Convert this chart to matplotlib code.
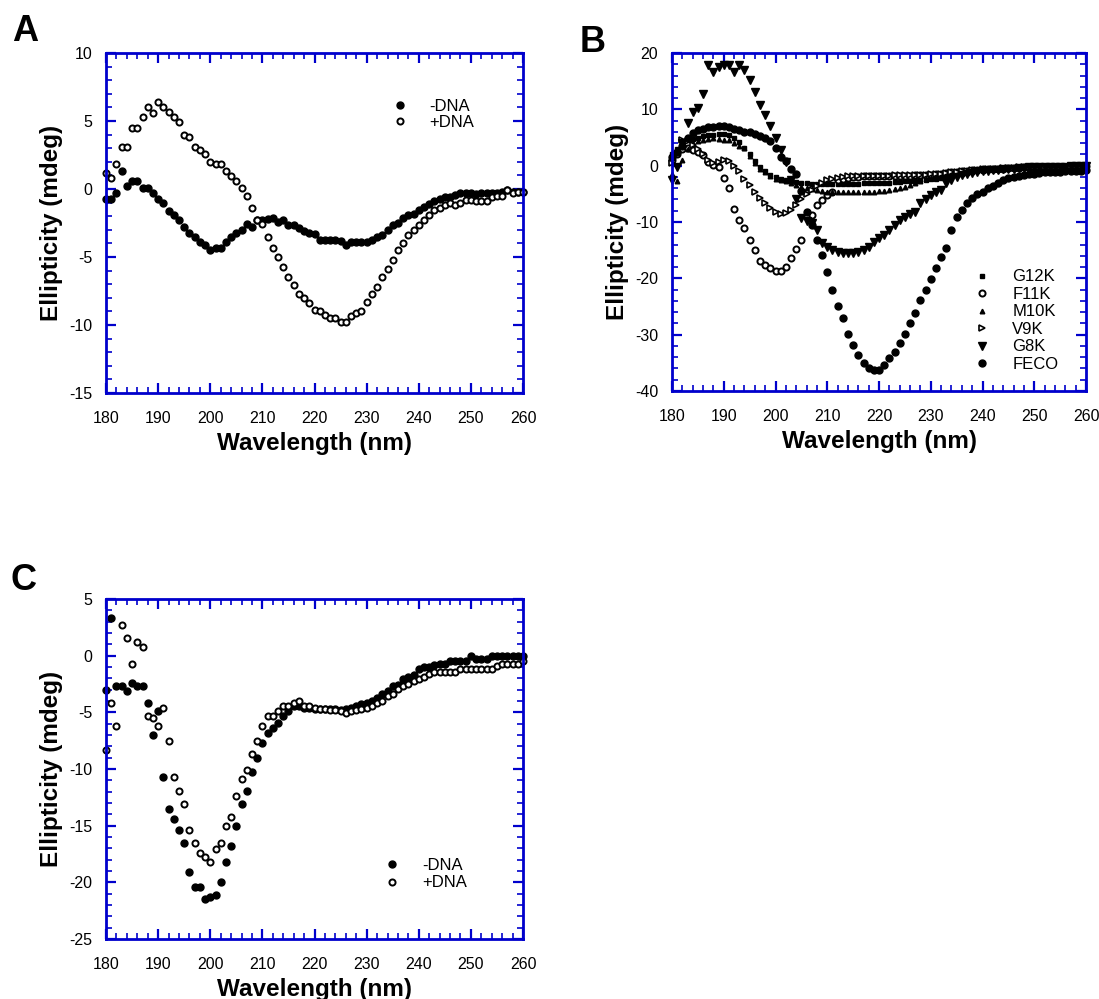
import matplotlib
matplotlib.use('Agg')
import matplotlib.pyplot as plt
from matplotlib.ticker import MultipleLocator

WAVELENGTH = list(range(180, 261))

# panel A
A_MINUS_DNA = [-0.7, -0.7, -0.3, 1.3, 0.2, 0.6, 0.6, 0.1, 0.1, -0.3,
               -0.7, -1.0, -1.6, -1.9, -2.3, -2.8, -3.2, -3.5, -3.9, -4.1,
               -4.5, -4.3, -4.3, -3.9, -3.5, -3.2, -3.0, -2.6, -2.8, -2.3,
               -2.3, -2.2, -2.1, -2.4, -2.3, -2.65, -2.65, -2.9, -3.05, -3.2,
               -3.3, -3.75, -3.75, -3.75, -3.75, -3.85, -4.1, -3.9, -3.9, -3.9,
               -3.9, -3.75, -3.55, -3.4, -3.0, -2.65, -2.5, -2.15, -1.9, -1.8,
               -1.55, -1.35, -1.1, -0.9, -0.7, -0.6, -0.55, -0.45, -0.3, -0.27,
               -0.27, -0.35, -0.3, -0.27, -0.27, -0.27, -0.2, -0.1, -0.2, -0.2, -0.2]
A_PLUS_DNA = [1.15, 0.8, 1.85, 3.1, 3.1, 4.5, 4.5, 5.3, 6.0, 5.6,
              6.4, 6.0, 5.7, 5.3, 4.9, 4.0, 3.8, 3.1, 2.9, 2.55,
              2.0, 1.85, 1.85, 1.3, 0.95, 0.6, 0.05, -0.5, -1.4, -2.3,
              -2.6, -3.55, -4.3, -5.0, -5.7, -6.45, -7.05, -7.7, -8.05, -8.4,
              -8.9, -9.0, -9.25, -9.45, -9.45, -9.75, -9.75, -9.35, -9.15, -8.95,
              -8.3, -7.7, -7.2, -6.5, -5.9, -5.2, -4.45, -3.95, -3.4, -3.0,
              -2.65, -2.3, -1.9, -1.55, -1.4, -1.2, -1.05, -1.2, -1.05, -0.8,
              -0.8, -0.85, -0.85, -0.85, -0.55, -0.5, -0.5, -0.1, -0.3, -0.2, -0.2]

# panel B
B_G12K = [2.0, 3.0, 4.0, 4.5, 4.8, 5.0, 5.2, 5.4, 5.5, 5.6,
          5.6, 5.5, 5.0, 4.2, 3.1, 2.0, 0.8, -0.2, -1.0, -1.6,
          -2.0, -2.3, -2.5, -2.7, -2.9, -3.0, -3.1, -3.2, -3.2, -3.3,
          -3.3, -3.3, -3.3, -3.3, -3.2, -3.2, -3.2, -3.1, -3.1, -3.1,
          -3.0, -3.0, -3.0, -2.9, -2.9, -2.8, -2.8, -2.7, -2.6, -2.5,
          -2.4, -2.3, -2.2, -2.0, -1.9, -1.7, -1.5, -1.3, -1.1, -1.0,
          -0.9, -0.8, -0.7, -0.6, -0.5, -0.5, -0.4, -0.4, -0.3, -0.3,
          -0.3, -0.2, -0.2, -0.2, -0.2, -0.1, -0.1, -0.1, 0.0, 0.0, 0.0]
B_F11K = [1.0, 2.0, 3.0, 3.1, 2.8, 2.5, 1.9, 0.7, 0.1, -0.2,
          -2.2, -4.0, -7.6, -9.6, -11.1, -13.2, -15.0, -17.0, -17.6, -18.1,
          -18.7, -18.7, -17.9, -16.3, -14.7, -13.2, -9.0, -8.7, -7.0, -6.1,
          -5.2, -4.6, -2.5, -2.3, -2.1, -2.0, -2.0, -1.9, -1.9, -1.9,
          -1.9, -1.9, -1.9, -1.9, -1.8, -1.8, -1.8, -1.7, -1.7, -1.6,
          -1.6, -1.5, -1.4, -1.3, -1.2, -1.1, -1.0, -0.9, -0.8, -0.7,
          -0.6, -0.6, -0.5, -0.5, -0.5, -0.4, -0.4, -0.4, -0.3, -0.3,
          -0.3, -0.3, -0.3, -0.2, -0.2, -0.2, -0.2, -0.2, -0.1, -0.1, -0.1]
B_M10K = [-1.5, -2.7, 1.0, 3.0, 4.0, 4.4, 4.6, 4.8, 4.9, 4.8,
          4.6, 4.5, 4.0, 3.5, 3.1, 1.8, 0.4, -0.6, -1.1, -1.9,
          -2.3, -2.5, -2.8, -3.1, -3.4, -3.7, -4.0, -4.2, -4.4, -4.5,
          -4.6, -4.6, -4.7, -4.7, -4.7, -4.7, -4.7, -4.6, -4.6, -4.6,
          -4.5, -4.5, -4.4, -4.2, -4.0, -3.7, -3.4, -3.0, -2.7, -2.4,
          -2.1, -1.9, -1.7, -1.5, -1.3, -1.2, -1.0, -0.9, -0.8, -0.7,
          -0.6, -0.6, -0.5, -0.5, -0.4, -0.4, -0.4, -0.3, -0.3, -0.3,
          -0.3, -0.2, -0.2, -0.2, -0.2, -0.2, -0.1, -0.1, -0.1, -0.1, 0.0]
B_V9K = [0.5, 2.0, 4.5, 4.3, 3.7, 3.0, 2.0, 1.0, 0.4, 0.7,
         1.0, 0.8, 0.0, -1.0, -2.3, -3.5, -4.7, -5.8, -6.7, -7.5,
         -8.2, -8.6, -8.4, -7.8, -7.0, -6.0, -5.0, -4.3, -3.6, -3.0,
         -2.6, -2.3, -2.1, -2.0, -1.9, -1.9, -1.9, -1.8, -1.8, -1.8,
         -1.8, -1.8, -1.8, -1.7, -1.7, -1.7, -1.7, -1.6, -1.6, -1.6,
         -1.5, -1.5, -1.4, -1.3, -1.2, -1.1, -1.0, -0.9, -0.8, -0.7,
         -0.6, -0.6, -0.5, -0.5, -0.4, -0.4, -0.4, -0.3, -0.3, -0.3,
         -0.3, -0.3, -0.2, -0.2, -0.2, -0.2, -0.2, -0.1, -0.1, -0.1, -0.1]
B_G8K = [-2.5, -0.2, 4.0, 7.5, 9.6, 10.2, 12.8, 17.9, 16.7, 17.5,
         17.9, 17.9, 16.7, 17.9, 17.0, 15.3, 13.1, 10.8, 9.0, 7.0,
         4.85, 2.8, 0.7, -2.5, -6.0, -9.3, -9.8, -10.2, -11.4, -13.7,
         -14.4, -15.0, -15.3, -15.5, -15.5, -15.5, -15.3, -15.0, -14.4, -13.6,
         -12.8, -12.3, -11.4, -10.5, -9.7, -9.1, -8.6, -8.2, -6.7, -5.9,
         -5.2, -4.7, -4.3, -3.1, -2.5, -2.0, -1.7, -1.5, -1.3, -1.1,
         -1.0, -0.9, -0.8, -0.7, -0.6, -0.5, -0.5, -0.4, -0.4, -0.3,
         -0.3, -0.3, -0.3, -0.2, -0.2, -0.2, -0.2, -0.1, -0.1, 0.0, 0.0]
B_FECO = [1.5, 2.5, 3.5, 5.0, 5.8, 6.3, 6.6, 6.8, 6.9, 7.0,
          7.0, 6.8, 6.6, 6.3, 6.0, 5.9, 5.7, 5.3, 4.9, 4.4,
          3.1, 1.6, 0.8, -0.5, -1.4, -4.5, -8.2, -10.5, -13.2, -15.9,
          -18.8, -22.0, -24.9, -27.1, -29.8, -31.8, -33.6, -35.0, -36.0, -36.3,
          -36.3, -35.4, -34.2, -33.0, -31.4, -29.8, -28.0, -26.2, -23.8, -22.0,
          -20.2, -18.2, -16.2, -14.6, -11.5, -9.1, -7.9, -6.7, -5.8, -5.0,
          -4.6, -4.0, -3.6, -3.0, -2.5, -2.2, -2.0, -1.8, -1.6, -1.5,
          -1.4, -1.3, -1.2, -1.2, -1.1, -1.1, -1.0, -1.0, -1.0, -0.9, -0.8]

# panel C
C_MINUS_DNA = [-3.0, 3.3, -2.7, -2.7, -3.1, -2.45, -2.65, -2.7, -4.2, -7.0,
               -4.85, -10.7, -13.5, -14.4, -15.4, -16.5, -19.1, -20.4, -20.4, -21.5,
               -21.3, -21.1, -20.0, -18.2, -16.8, -15.0, -13.1, -11.9, -10.3, -9.0,
               -7.7, -6.8, -6.4, -5.9, -5.3, -4.85, -4.4, -4.4, -4.6, -4.6,
               -4.7, -4.7, -4.7, -4.7, -4.7, -4.8, -4.7, -4.6, -4.4, -4.3,
               -4.2, -4.0, -3.7, -3.4, -3.1, -2.7, -2.6, -2.1, -1.85, -1.75,
               -1.2, -1.0, -1.0, -0.8, -0.7, -0.7, -0.5, -0.5, -0.5, -0.5,
               -0.06, -0.3, -0.3, -0.3, -0.06, -0.06, -0.06, -0.06, -0.06, -0.06, -0.06]
C_PLUS_DNA = [-8.3, -4.2, -6.2, 2.7, 1.6, -0.75, 1.2, 0.75, -5.3, -5.5,
              -6.2, -4.65, -7.5, -10.7, -11.9, -13.1, -15.4, -16.5, -17.4, -17.8,
              -18.2, -17.1, -16.5, -15.0, -14.2, -12.4, -10.9, -10.1, -8.7, -7.5,
              -6.2, -5.3, -5.3, -4.85, -4.4, -4.4, -4.2, -4.0, -4.4, -4.4,
              -4.6, -4.7, -4.7, -4.8, -4.8, -4.9, -5.1, -4.9, -4.8, -4.7,
              -4.6, -4.4, -4.2, -4.0, -3.6, -3.4, -2.9, -2.7, -2.5, -2.2,
              -2.05, -1.85, -1.6, -1.4, -1.4, -1.4, -1.4, -1.4, -1.2, -1.2,
              -1.2, -1.2, -1.2, -1.2, -1.2, -0.9, -0.75, -0.75, -0.75, -0.75, -0.5]

BLUE = '#0000cc'


def style_axes(ax, ymin, ymax, ymajor, yminor):
    ax.set_xlim(180, 260)
    ax.set_ylim(ymin, ymax)
    ax.xaxis.set_major_locator(MultipleLocator(10))
    ax.xaxis.set_minor_locator(MultipleLocator(2))
    ax.yaxis.set_major_locator(MultipleLocator(ymajor))
    ax.yaxis.set_minor_locator(MultipleLocator(yminor))
    ax.tick_params(which='both', direction='in', top=True, right=True,
                   color=BLUE, labelsize=11.5, pad=10)
    ax.tick_params(axis='x', which='both', pad=13)
    ax.tick_params(which='major', length=7, width=1.6)
    ax.tick_params(which='minor', length=4, width=1.2)
    for sp in ax.spines.values():
        sp.set_color(BLUE)
        sp.set_linewidth(2)
    ax.set_xlabel('Wavelength (nm)', fontsize=17.5, fontweight='bold', labelpad=4)
    ax.set_ylabel('Ellipticity (mdeg)', fontsize=17.5, fontweight='bold', labelpad=4)


def dna_panel(ax, minus, plus, legend_anchor, spacing):
    ax.plot(WAVELENGTH, minus, 'o', color='black', ms=5, ls='none',
            clip_on=False, label='-DNA')
    ax.plot(WAVELENGTH, plus, 'o', mfc='white', mec='black', mew=1.4, ms=4.4,
            ls='none', clip_on=False, label='+DNA')
    ax.legend(loc='upper left', bbox_to_anchor=legend_anchor, frameon=False,
              fontsize=12, handlelength=1.0, handletextpad=1.3, borderpad=0,
              borderaxespad=0, labelspacing=spacing, numpoints=1)


def main():
    plt.rcParams['font.family'] = ['Liberation Sans', 'DejaVu Sans']
    plt.rcParams['axes.unicode_minus'] = False

    fig = plt.figure(figsize=(10.99, 9.99), dpi=100)

    ax = fig.add_axes([0.0965, 0.6066, 0.3794, 0.3403])
    dna_panel(ax, A_MINUS_DNA, A_PLUS_DNA, (0.684, 0.866), 0.08)
    style_axes(ax, -15, 10, 5, 1)

    ax = fig.add_axes([0.6115, 0.6086, 0.3767, 0.3383])
    ax.plot(WAVELENGTH, B_G12K, 's', color='black', ms=2.6, ls='none', clip_on=False, label='G12K')
    ax.plot(WAVELENGTH, B_F11K, 'o', mfc='white', mec='black', mew=1.4, ms=4.4, ls='none',
            clip_on=False, label='F11K')
    ax.plot(WAVELENGTH, B_M10K, '^', color='black', ms=3.3, ls='none', clip_on=False, label='M10K')
    ax.plot(WAVELENGTH, B_V9K, '>', mfc='white', mec='black', mew=1.2, ms=4.2, ls='none',
            clip_on=False, label='V9K')
    ax.plot(WAVELENGTH, B_G8K, 'v', color='black', ms=6.3, ls='none', clip_on=False, label='G8K')
    ax.plot(WAVELENGTH, B_FECO, 'o', color='black', ms=5, ls='none', clip_on=False, label='FECO')
    ax.legend(loc='upper left', bbox_to_anchor=(0.729, 0.36), frameon=False,
              fontsize=12, handlelength=1.0, handletextpad=1.3, borderpad=0,
              borderaxespad=0, labelspacing=0.15, numpoints=1)
    style_axes(ax, -40, 20, 10, 2)

    ax = fig.add_axes([0.0965, 0.0601, 0.3794, 0.3403])
    dna_panel(ax, C_MINUS_DNA, C_PLUS_DNA, (0.667, 0.238), 0.14)
    style_axes(ax, -25, 5, 5, 1)

    fig.text(12 / 1099, 1 - 14 / 999, 'A', fontsize=26, fontweight='bold', va='top', ha='left')
    fig.text(580 / 1099, 1 - 25 / 999, 'B', fontsize=26, fontweight='bold', va='top', ha='left')
    fig.text(10 / 1099, 1 - 563 / 999, 'C', fontsize=26, fontweight='bold', va='top', ha='left')

    fig.savefig('out.png', dpi=100)


if __name__ == '__main__':
    main()
